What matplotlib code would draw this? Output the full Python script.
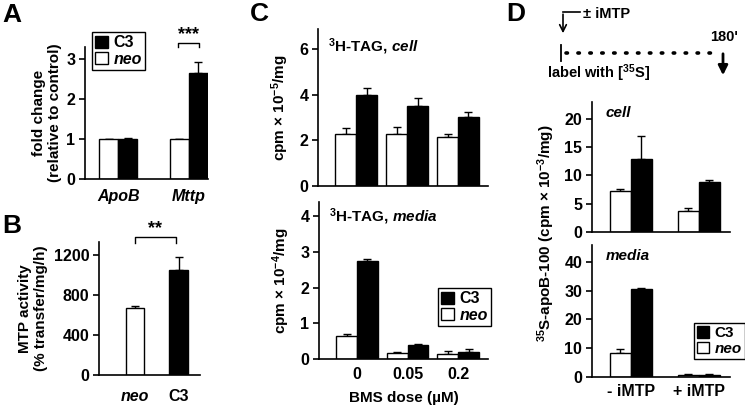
import matplotlib
matplotlib.use('Agg')
import matplotlib.pyplot as plt
from matplotlib.patches import Patch
import numpy as np

plt.rcParams['font.family'] = ['Liberation Sans Narrow', 'Liberation Sans', 'DejaVu Sans']
plt.rcParams['font.weight'] = 'bold'
plt.rcParams['mathtext.fontset'] = 'custom'
plt.rcParams['mathtext.rm'] = 'Liberation Sans:bold'
plt.rcParams['mathtext.it'] = 'Liberation Sans:bold:italic'
plt.rcParams['mathtext.bf'] = 'Liberation Sans:bold'
plt.rcParams['mathtext.default'] = 'rm'

# ---- data ----
# A: fold change
genes = ['ApoB', 'Mttp']
a_neo = [1.0, 1.0]
a_neo_err = [0.0, 0.0]
a_c3 = [1.0, 2.65]
a_c3_err = [0.02, 0.28]

# B: MTP activity
b_groups = ['neo', 'C3']
b_vals = [670, 1050]
b_err = [25, 130]

# C: 3H-TAG vs BMS dose
doses = ['0', '0.05', '0.2']
c_cell_neo = [2.28, 2.28, 2.14]
c_cell_neo_err = [0.26, 0.30, 0.14]
c_cell_c3 = [3.99, 3.50, 3.02]
c_cell_c3_err = [0.30, 0.35, 0.22]
c_media_neo = [0.65, 0.18, 0.15]
c_media_neo_err = [0.04, 0.03, 0.07]
c_media_c3 = [2.74, 0.38, 0.20]
c_media_c3_err = [0.06, 0.03, 0.09]

# D: 35S-apoB-100
treat = ['- iMTP', '+ iMTP']
d_cell_neo = [7.3, 3.8]
d_cell_neo_err = [0.3, 0.45]
d_cell_c3 = [13.0, 8.8]
d_cell_c3_err = [4.0, 0.45]
d_media_neo = [8.5, 0.8]
d_media_neo_err = [1.2, 0.3]
d_media_c3 = [30.6, 0.8]
d_media_c3_err = [0.3, 0.35]

W, H = 745, 409
fig = plt.figure(figsize=(W / 100, H / 100), dpi=100)


def ax_px(left, top, right, bottom):
    return fig.add_axes([left / W, 1 - bottom / H, (right - left) / W, (bottom - top) / H])


def style(ax, ylim, yticks, xlim):
    for s in ['top', 'right']:
        ax.spines[s].set_visible(False)
    for s in ['left', 'bottom']:
        ax.spines[s].set_linewidth(1.2)
    ax.set_ylim(*ylim)
    ax.set_xlim(*xlim)
    ax.set_yticks(yticks)
    ax.tick_params(axis='y', direction='out', length=4, width=1.2, labelsize=11.5, pad=3)
    ax.tick_params(axis='x', length=0, labelsize=11.5)
    for lab in ax.get_yticklabels():
        lab.set_fontweight('bold')


def pair(ax, neo, neo_err, c3, c3_err, w):
    x = np.arange(len(neo))
    ax.bar(x - w / 2, neo, w, color='white', edgecolor='black', linewidth=1, zorder=2)
    ax.bar(x + w / 2, c3, w, color='black', edgecolor='black', linewidth=1, zorder=2)
    ax.errorbar(x - w / 2, neo, yerr=[np.zeros(len(neo)), neo_err], fmt='none',
                ecolor='black', elinewidth=1, capsize=3, capthick=1, zorder=1)
    ax.errorbar(x + w / 2, c3, yerr=[np.zeros(len(c3)), c3_err], fmt='none',
                ecolor='black', elinewidth=1, capsize=3, capthick=1, zorder=1)
    return x


def legend(ax, x0, y0, fs=11.5):
    handles = [Patch(facecolor='black', edgecolor='black'),
               Patch(facecolor='white', edgecolor='black')]
    leg = ax.legend(handles, ['C3', 'neo'], loc='upper left',
                    bbox_to_anchor=(x0 / W, 1 - y0 / H), bbox_transform=fig.transFigure,
                    fontsize=fs, handlelength=0.8, handleheight=0.8, handletextpad=0.35,
                    borderpad=0.2, labelspacing=0.1, borderaxespad=0, fancybox=False,
                    framealpha=1, edgecolor='black')
    leg.get_frame().set_linewidth(1)
    texts = leg.get_texts()
    texts[0].set_fontweight('bold')
    texts[1].set_fontweight('bold')
    texts[1].set_style('italic')


# ---- panel A ----
axA = ax_px(85, 47, 208, 179)
style(axA, (0, 3.3), [0, 1, 2, 3], (-0.47, 1.27))
xa = pair(axA, a_neo, a_neo_err, a_c3, a_c3_err, 0.27)
axA.set_xticks(xa)
axA.set_xticklabels(genes, fontstyle='italic', fontweight='bold')
axA.tick_params(axis='x', pad=7)
axA.set_ylabel('fold change\n(relative to control)', fontsize=11, fontweight='bold', labelpad=3)
legend(axA, 92, 32)

# ---- panel B ----
axB = ax_px(99, 242, 200, 375)
style(axB, (0, 1330), [0, 400, 800, 1200], (-0.83, 1.49))
xb = np.arange(len(b_vals))
axB.bar(xb, b_vals, 0.43, color=['white', 'black'], edgecolor='black', linewidth=1, zorder=2)
axB.errorbar(xb, b_vals, yerr=[np.zeros(2), b_err], fmt='none', ecolor='black',
             elinewidth=1, capsize=3, capthick=1, zorder=1)
axB.set_xticks(xb)
axB.set_xticklabels(b_groups, fontweight='bold')
axB.get_xticklabels()[0].set_style('italic')
axB.tick_params(axis='x', pad=10)
axB.set_ylabel('MTP activity\n(% transfer/mg/h)', fontsize=11, fontweight='bold', labelpad=4)

# ---- panel C ----
axC1 = ax_px(318, 29, 488, 186)
style(axC1, (0, 6.88), [0, 2, 4, 6], (-0.75, 2.59))
pair(axC1, c_cell_neo, c_cell_neo_err, c_cell_c3, c_cell_c3_err, 0.41)
axC1.set_xticks([])
axC1.set_ylabel(r'cpm $\times$ 10$^{-5}$/mg', fontsize=11, fontweight='bold', labelpad=6)
axC1.text(0.06, 0.95, r'$^{3}$H-TAG, $\mathit{cell}$', transform=axC1.transAxes,
          fontsize=11, va='top', ha='left')

axC2 = ax_px(319, 202, 488, 359)
style(axC2, (0, 4.4), [0, 1, 2, 3, 4], (-0.75, 2.59))
xc = pair(axC2, c_media_neo, c_media_neo_err, c_media_c3, c_media_c3_err, 0.41)
axC2.set_xticks(xc)
axC2.set_xticklabels(doses, fontweight='bold')
axC2.tick_params(axis='x', pad=6)
axC2.set_xlabel('BMS dose (\u00b5M)', fontsize=11, fontweight='bold', labelpad=6)
axC2.set_ylabel(r'cpm $\times$ 10$^{-4}$/mg', fontsize=11, fontweight='bold', labelpad=6)
axC2.text(0.06, 0.97, r'$^{3}$H-TAG, $\mathit{media}$', transform=axC2.transAxes,
          fontsize=11, va='top', ha='left')
legend(axC2, 438, 288)

# ---- panel D ----
axD1 = ax_px(592, 102, 730, 232)
style(axD1, (0, 23), [0, 5, 10, 15, 20], (-0.57, 1.46))
pair(axD1, d_cell_neo, d_cell_neo_err, d_cell_c3, d_cell_c3_err, 0.31)
axD1.set_xticks([])
axD1.text(0.1, 0.97, 'cell', transform=axD1.transAxes, fontsize=11,
          fontweight='bold', fontstyle='italic', va='top', ha='left')

axD2 = ax_px(592, 245, 730, 377)
style(axD2, (0, 45.9), [0, 10, 20, 30, 40], (-0.57, 1.46))
xd = pair(axD2, d_media_neo, d_media_neo_err, d_media_c3, d_media_c3_err, 0.31)
axD2.set_xticks(xd)
axD2.set_xticklabels(treat, fontweight='bold')
axD2.tick_params(axis='x', pad=5)
axD2.text(0.1, 0.97, 'media', transform=axD2.transAxes, fontsize=11,
          fontweight='bold', fontstyle='italic', va='top', ha='left')
legend(axD2, 694, 323, fs=11)

# ---- overlay for letters, brackets, schematic ----
ov = fig.add_axes([0, 0, 1, 1])
ov.set_xlim(0, W)
ov.set_ylim(H, 0)
ov.axis('off')
for letter, (lx, ly) in zip('ABCD', [(12, 15), (12, 226), (259, 14), (516, 14)]):
    ov.text(lx, ly, letter, fontsize=19, fontweight='bold', ha='center', va='center',
            family=['Liberation Sans', 'DejaVu Sans'])

fig.text(546 / W, 1 - 233 / H, r'$^{35}$S-apoB-100 (cpm $\times$ 10$^{-3}$/mg)',
         rotation=90, fontsize=11, fontweight='bold', ha='center', va='center')

# significance brackets
ov.plot([178, 178, 199, 199], [47, 43, 43, 47], color='black', lw=1)
ov.text(188.5, 35, '***', fontsize=13, fontweight='bold', ha='center', va='center')
ov.plot([135, 135, 176, 176], [243, 237, 237, 243], color='black', lw=1)
ov.text(155.5, 229, '**', fontsize=13, fontweight='bold', ha='center', va='center')

# schematic
ov.text(583, 14, '\u00b1 iMTP', fontsize=10.5, fontweight='bold', ha='left', va='center')
ov.plot([580, 563], [12, 12], color='black', lw=1.2)
ov.annotate('', xy=(563, 36), xytext=(563, 11.4),
            arrowprops=dict(arrowstyle='->', lw=1.2, color='black', mutation_scale=12))
ov.plot([561, 561], [45, 61], color='black', lw=1.3)
ov.plot([566, 716], [53, 53], color='black', lw=2.6, linestyle=(0, (0.4, 2.9)),
        solid_capstyle='round', dash_capstyle='round')
ov.annotate('', xy=(723, 78), xytext=(723, 51),
            arrowprops=dict(arrowstyle='-|>', lw=2, color='black', mutation_scale=14))
ov.text(724, 37, "180'", fontsize=10.5, fontweight='bold', ha='center', va='center')
ov.text(547, 73, r'label with [$^{35}$S]', fontsize=10.5, fontweight='bold',
        ha='left', va='center')

fig.savefig('out.png', dpi=100)
